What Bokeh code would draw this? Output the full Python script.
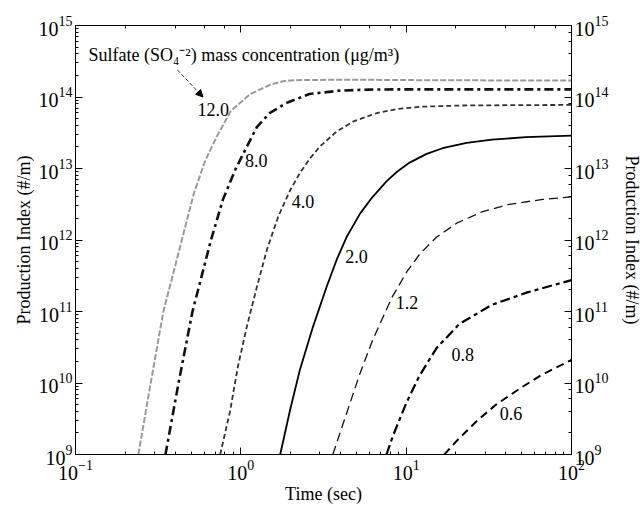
from bokeh.plotting import figure
from bokeh.models import LogAxis, LogTicker, Label, Arrow, NormalHead, ColumnDataSource
from bokeh.core.properties import value
from bokeh.embed import file_html
from bokeh.resources import INLINE

# ---- data ----
t_12 = [0.24, 0.285, 0.34, 0.45, 0.52, 0.61, 0.716, 0.87, 1.14, 1.5, 1.8, 2.18, 3.5, 6, 12, 25, 50, 100]
p_12 = [1e9, 1e10, 1e11, 1.23e12, 4.5e12, 1.3e13, 2.8e13, 6.4e13, 1.1e14, 1.48e14, 1.66e14, 1.72e14,
        1.74e14, 1.74e14, 1.72e14, 1.71e14, 1.7e14, 1.7e14]

t_8 = [0.35, 0.42, 0.51, 0.66, 0.78, 0.925, 1.06, 1.25, 1.5, 1.9, 2.6, 4.0, 6, 9, 20, 50, 100]
p_8 = [1e9, 1e10, 1e11, 1e12, 3.7e12, 9.6e12, 1.8e13, 3.8e13, 6e13, 8.3e13, 1.1e14, 1.23e14,
       1.27e14, 1.28e14, 1.28e14, 1.28e14, 1.28e14]

t_4 = [0.75, 0.86, 0.96, 1.09, 1.25, 1.44, 1.68, 1.99, 2.28, 2.62, 3.0, 3.8, 4.8, 6.65, 8.8, 12.1, 21, 50, 100]
p_4 = [1e9, 4e9, 1.7e10, 6.3e10, 2.2e11, 7.4e11, 2.1e12, 5e12, 8.7e12, 1.38e13, 2.02e13, 3.3e13,
       4.55e13, 5.96e13, 6.8e13, 7.3e13, 7.6e13, 7.7e13, 7.75e13]

t_2 = [1.73, 1.99, 2.28, 2.73, 3.3, 3.8, 4.38, 5.25, 6.2, 7.6, 8.8, 10.5, 13.3, 16.6, 23.2, 33, 53, 100]
p_2 = [1e9, 4.3e9, 1.55e10, 6.1e10, 2.2e11, 5.3e11, 1.12e12, 2.32e12, 3.89e12, 6.6e12, 9.0e12,
       1.21e13, 1.6e13, 1.92e13, 2.28e13, 2.53e13, 2.74e13, 2.88e13]

t_12b = [3.6, 4.4, 5.25, 6.3, 8.2, 10.1, 12.1, 15.3, 20.2, 29, 42, 67, 100]
p_12b = [1e9, 4.0e9, 1.35e10, 4.1e10, 1.57e11, 3.6e11, 6.4e11, 1.1e12, 1.72e12, 2.5e12, 3.15e12,
         3.7e12, 4.0e12]

t_08 = [7.6, 8.3, 10, 12, 15.3, 21, 33, 54, 100]
p_08 = [1e9, 1.8e9, 5.2e9, 1.25e10, 3.1e10, 6.7e10, 1.24e11, 1.85e11, 2.75e11]

t_06 = [17, 21, 27, 35, 50, 66, 100]
p_06 = [1e9, 1.7e9, 3e9, 5e9, 8.7e9, 1.3e10, 2.1e10]

series_names = ["12.0", "8.0", "4.0", "2.0", "1.2", "0.8", "0.6"]
series_t = [t_12, t_8, t_4, t_2, t_12b, t_08, t_06]
series_p = [p_12, p_8, p_4, p_2, p_12b, p_08, p_06]

# curve-label anchor positions (time, value)
label_t = [0.68, 1.24, 2.38, 5.0, 10.1, 22, 43]
label_p = [6.6e13, 1.3e13, 3.5e12, 5.8e11, 1.35e11, 2.5e10, 3.7e9]

title_text = "Sulfate (SO\u2084\u207b\u00b2) mass concentration (\u03bcg/m\u00b3)"
x_label = "Time (sec)"
y_label = "Production Index (#/m)"

# ---- styles ----
styles = [
    dict(color="#9a9a9a", line_width=2.0, line_dash="6 2"),
    dict(color="#111111", line_width=2.6, line_dash="9 4 3 4"),
    dict(color="#333333", line_width=1.8, line_dash="5 3"),
    dict(color="#000000", line_width=1.8, line_dash="solid"),
    dict(color="#111111", line_width=1.3, line_dash="9 5"),
    dict(color="#000000", line_width=2.2, line_dash="10 4 4 4"),
    dict(color="#000000", line_width=2.0, line_dash="8 5"),
]

FONT = "Liberation Serif"

p = figure(width=644, height=506, x_axis_type="log", y_axis_type="log",
           x_range=(0.1, 100), y_range=(1e9, 1e15),
           output_backend="svg", toolbar_location=None,
           min_border_left=75, min_border_right=72, min_border_top=25, min_border_bottom=50)
p.xgrid.visible = False
p.ygrid.visible = False
p.outline_line_color = "black"
p.background_fill_color = "white"
p.border_fill_color = "white"

p.add_layout(LogAxis(ticker=LogTicker()), "right")
p.add_layout(LogAxis(ticker=LogTicker()), "above")

for ax in p.axis:
    ax.major_tick_in = 7
    ax.major_tick_out = 0
    ax.minor_tick_in = 3
    ax.minor_tick_out = 0
    ax.axis_line_color = "black"
    ax.major_tick_line_color = "black"
    ax.minor_tick_line_color = "black"
    ax.major_label_text_font = FONT
    ax.major_label_text_font_size = "20px"
    ax.major_label_text_color = "black"
    ax.axis_label_text_font = FONT
    ax.axis_label_text_font_size = "18px"
    ax.axis_label_text_font_style = "normal"
    ax.axis_label_text_color = "black"
    ax.major_label_standoff = 3
    ax.axis_label_standoff = 2

p.below[0].axis_label = x_label
p.below[0].major_label_standoff = 5
p.below[0].axis_label_standoff = 1
p.left[0].axis_label = y_label
p.right[0].axis_label = y_label
p.right[0].axis_label_standoff = 10
p.above[0].major_label_text_font_size = "2px"
p.above[0].major_label_text_alpha = 0
p.above[0].major_label_standoff = 0

for name, tt, pp, st in zip(series_names, series_t, series_p, styles):
    src = ColumnDataSource(dict(t=tt, p=pp))
    p.line("t", "p", source=src, **st)

lab_src = ColumnDataSource(dict(t=label_t, p=label_p, txt=series_names))
p.text("t", "p", text="txt", source=lab_src, text_font=value(FONT), text_font_size="18px",
       text_align="center", text_baseline="middle", text_color="black")

p.add_layout(Label(x=0.12, y=3.85e14, text=title_text, text_font=FONT, text_font_size="18px",
                   text_baseline="middle", text_color="black"))
p.add_layout(Arrow(x_start=0.413, y_start=2.4e14, x_end=0.59, y_end=1.0e14,
                   line_width=0.8, line_dash="4 2", line_color="black",
                   end=NormalHead(size=7, fill_color="black", line_color="black")))

open("out.html", "w").write(file_html(p, INLINE))
